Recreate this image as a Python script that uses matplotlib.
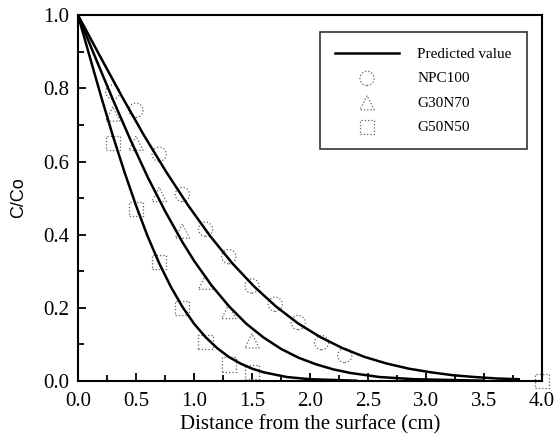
import numpy as np
import matplotlib
matplotlib.use("Agg")
import matplotlib.pyplot as plt
from matplotlib.ticker import MultipleLocator

# predicted curves
x_npc_pred = [0, 0.19, 0.38, 0.57, 0.76, 0.95, 1.14, 1.33, 1.52, 1.71, 1.90,
              2.09, 2.28, 2.47, 2.66, 2.85, 3.04, 3.23, 3.42, 3.61, 3.80]
y_npc_pred = [1.0, 0.888, 0.777, 0.671, 0.572, 0.480, 0.396, 0.322, 0.258, 0.203, 0.157,
              0.120, 0.090, 0.066, 0.048, 0.034, 0.024, 0.016, 0.011, 0.007, 0.005]

x_g30_pred = [0, 0.15, 0.30, 0.45, 0.60, 0.75, 0.90, 1.00, 1.15, 1.30, 1.45,
              1.60, 1.75, 1.90, 2.05, 2.20, 2.35, 2.60, 2.90, 3.50]
y_g30_pred = [1.0, 0.884, 0.770, 0.661, 0.558, 0.465, 0.380, 0.329, 0.262, 0.205, 0.157,
              0.119, 0.088, 0.064, 0.046, 0.032, 0.022, 0.011, 0.005, 0.001]

x_g50_pred = [0, 0.1, 0.2, 0.3, 0.4, 0.5, 0.6, 0.7, 0.8, 0.9, 1.0,
              1.1, 1.2, 1.3, 1.4, 1.5, 1.6, 1.8, 2.0, 2.4]
y_g50_pred = [1.0, 0.888, 0.777, 0.671, 0.572, 0.480, 0.396, 0.322, 0.258, 0.203, 0.157,
              0.120, 0.090, 0.066, 0.048, 0.034, 0.024, 0.011, 0.005, 0.001]

# measured points
x_npc = [0.3, 0.5, 0.7, 0.9, 1.1, 1.3, 1.5, 1.7, 1.9, 2.1, 2.3]
y_npc = [0.79, 0.74, 0.62, 0.51, 0.415, 0.34, 0.26, 0.21, 0.16, 0.105, 0.07]

x_g30 = [0.3, 0.5, 0.7, 0.9, 1.1, 1.3, 1.5]
y_g30 = [0.73, 0.65, 0.51, 0.41, 0.27, 0.19, 0.11]

x_g50 = [0.3, 0.5, 0.7, 0.9, 1.1, 1.3, 1.5, 4.0]
y_g50 = [0.65, 0.47, 0.325, 0.20, 0.107, 0.045, 0.025, 0.0]

serif = "Liberation Serif"
grey = "#606060"

fig = plt.figure(figsize=(5.57, 4.34), dpi=100)
ax = fig.add_axes([0.140, 0.122, 0.833, 0.843])

pred = None
for xs, ys in [(x_npc_pred, y_npc_pred), (x_g30_pred, y_g30_pred), (x_g50_pred, y_g50_pred)]:
    pred, = ax.plot(xs, ys, color="black", lw=1.8, zorder=3)

mk = dict(s=105, facecolors="none", edgecolors=grey, linewidths=0.9,
          linestyle=":", zorder=2, clip_on=False)
s1 = ax.scatter(x_npc, y_npc, marker="o", **mk)
s2 = ax.scatter(x_g30, y_g30, marker="^", **mk)
s3 = ax.scatter(x_g50, y_g50, marker="s", **mk)

ax.set_xlim(0, 4.0)
ax.set_ylim(0, 1.0)
ax.xaxis.set_major_locator(MultipleLocator(0.5))
ax.xaxis.set_minor_locator(MultipleLocator(0.25))
ax.yaxis.set_major_locator(MultipleLocator(0.2))
ax.yaxis.set_minor_locator(MultipleLocator(0.1))
ax.xaxis.set_major_formatter(plt.FormatStrFormatter("%.1f"))
ax.yaxis.set_major_formatter(plt.FormatStrFormatter("%.1f"))
ax.tick_params(which="both", direction="in", width=1.3, top=False, right=False)
ax.tick_params(which="major", length=6, labelsize=15)
ax.tick_params(which="minor", length=4)
ax.tick_params(axis="x", which="major", pad=8)
ax.tick_params(axis="y", which="major", pad=6)
for lab in ax.get_xticklabels() + ax.get_yticklabels():
    lab.set_fontfamily(serif)
for sp in ax.spines.values():
    sp.set_linewidth(1.5)

ax.set_xlabel("Distance from the surface (cm)", fontfamily=serif, fontsize=15, labelpad=3)
ax.set_ylabel("C/Co", fontfamily="Liberation Sans", fontsize=13, labelpad=12)

labels = ["Predicted value", "NPC100", "G30N70", "G50N50"]
leg = ax.legend([pred, s1, s2, s3], labels, loc="upper right", bbox_to_anchor=(0.968, 0.954),
                prop={"family": serif, "size": 11}, frameon=True, fancybox=False,
                edgecolor="black", handlelength=4.2, handletextpad=1.2, scatterpoints=1,
                labelspacing=0.7, borderpad=1.0, borderaxespad=0)
leg.get_frame().set_linewidth(1.2)

fig.savefig("out.png", dpi=100)
